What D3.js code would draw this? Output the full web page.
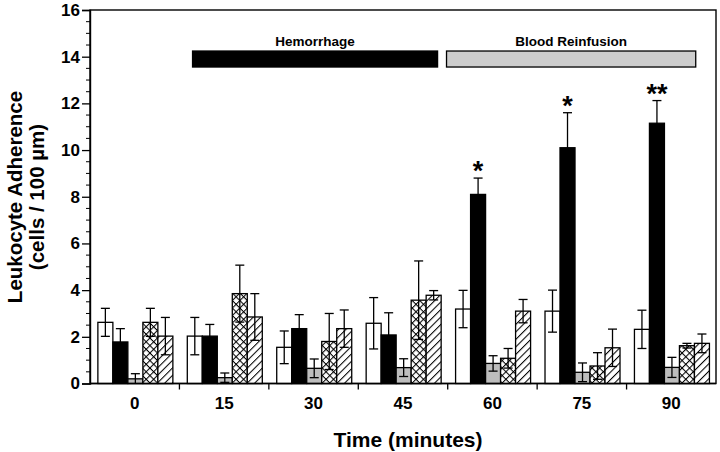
<!DOCTYPE html>
<html><head><meta charset="utf-8">
<script src="https://cdn.jsdelivr.net/npm/d3@7"></script>
<style>
html,body{margin:0;padding:0;background:#fff;}
svg{display:block;font-family:"Liberation Sans",Arial,Helvetica,sans-serif;}
</style></head>
<body>
<svg id="chart" width="720" height="452"></svg>
<script>
// ---- data ----
const times = ["0", "15", "30", "45", "60", "75", "90"];
const seriesNames = ["open", "black", "gray", "cross", "hatch"];
const valOpen  = [2.62, 2.03, 1.55, 2.58, 3.19, 3.10, 2.32];
const errOpen  = [0.60, 0.80, 0.70, 1.10, 0.80, 0.90, 0.82];
const valBlack = [1.78, 2.03, 2.35, 2.08, 8.10, 10.10, 11.15];
const errBlack = [0.57, 0.50, 0.60, 0.95, 0.70, 1.50, 0.97];
const valGray  = [0.20, 0.25, 0.65, 0.68, 0.86, 0.48, 0.69];
const errGray  = [0.22, 0.20, 0.40, 0.38, 0.33, 0.40, 0.43];
const valCross = [2.62, 3.85, 1.80, 3.57, 1.08, 0.75, 1.62];
const errCross = [0.60, 1.22, 1.20, 1.68, 0.42, 0.57, 0.10];
const valHatch = [2.03, 2.85, 2.35, 3.78, 3.10, 1.53, 1.72];
const errHatch = [0.80, 1.00, 0.80, 0.20, 0.50, 0.80, 0.40];
const starsBlack = ["", "", "", "", "*", "*", "**"];
const yTicks = [0, 2, 4, 6, 8, 10, 12, 14, 16];
const phaseNames = ["Hemorrhage", "Blood Reinfusion"];
const phaseStart = [9.7, 52.3];   // minutes
const phaseEnd   = [50.8, 94.1];  // minutes
const phaseLevel = 13.9;          // y value (centre of bars)

// ---- layout ----
const svg = d3.select("#chart");
const L = 90, R = 716, T = 10, B = 383.5;
const FONT = "'Liberation Sans',Arial,Helvetica,sans-serif";

const x0 = d3.scaleBand().domain(times).range([L, R]).padding(0);
const bw = x0.bandwidth();
const x1 = d3.scaleBand().domain(seriesNames).range([bw * 0.088, bw * 0.088 + 75]).padding(0);
const y = d3.scaleLinear().domain([0, 16]).range([B, T]);
const tScale = d3.scaleLinear().domain([0, 90]).range([x0("0") + bw / 2, x0("90") + bw / 2]);

// patterns
const defs = svg.append("defs");
const ph = defs.append("pattern").attr("id", "hatch").attr("patternUnits", "userSpaceOnUse")
  .attr("width", 5.3).attr("height", 10).attr("patternTransform", "rotate(45)");
ph.append("rect").attr("width", 5.3).attr("height", 10).attr("fill", "#fff");
ph.append("line").attr("x1", 0.5).attr("y1", 0).attr("x2", 0.5).attr("y2", 10).attr("stroke", "#000").attr("stroke-width", 1.1);
const pc = defs.append("pattern").attr("id", "cross").attr("patternUnits", "userSpaceOnUse")
  .attr("width", 5.3).attr("height", 5.3).attr("patternTransform", "rotate(45)");
pc.append("rect").attr("width", 5.3).attr("height", 5.3).attr("fill", "#fff");
pc.append("line").attr("x1", 0.5).attr("y1", 0).attr("x2", 0.5).attr("y2", 5.3).attr("stroke", "#000").attr("stroke-width", 1.1);
pc.append("line").attr("x1", 0).attr("y1", 0.5).attr("x2", 5.3).attr("y2", 0.5).attr("stroke", "#000").attr("stroke-width", 1.1);

const fills = { open: "#ffffff", black: "#000000", gray: "#bdbdbd", cross: "url(#cross)", hatch: "url(#hatch)" };
const vals = { open: valOpen, black: valBlack, gray: valGray, cross: valCross, hatch: valHatch };
const errs = { open: errOpen, black: errBlack, gray: errGray, cross: errCross, hatch: errHatch };

const rows = [];
times.forEach((t, i) => seriesNames.forEach(s => rows.push({ t, s, v: vals[s][i], e: errs[s][i], i })));

// frame
svg.append("rect").attr("x", L).attr("y", T).attr("width", R - L).attr("height", B - T)
  .attr("fill", "none").attr("stroke", "#000").attr("stroke-width", 1.4);

// bars
const g = svg.append("g");
g.selectAll("rect.bar").data(rows).join("rect").attr("class", "bar")
  .attr("x", d => x0(d.t) + x1(d.s))
  .attr("width", x1.bandwidth())
  .attr("y", d => y(d.v))
  .attr("height", d => y(0) - y(d.v))
  .attr("fill", d => fills[d.s])
  .attr("stroke", "#000").attr("stroke-width", 1.3);

// error bars
const cap = 4.5;
const eg = svg.append("g").attr("stroke", "#000").attr("stroke-width", 1.3);
rows.forEach(d => {
  const cx = x0(d.t) + x1(d.s) + x1.bandwidth() / 2;
  const lo = Math.max(0, d.v - d.e), hi = d.v + d.e;
  eg.append("line").attr("x1", cx).attr("x2", cx).attr("y1", y(lo)).attr("y2", y(hi));
  eg.append("line").attr("x1", cx - cap).attr("x2", cx + cap).attr("y1", y(hi)).attr("y2", y(hi));
  if (d.v - d.e > 0.02)
    eg.append("line").attr("x1", cx - cap).attr("x2", cx + cap).attr("y1", y(lo)).attr("y2", y(lo));
});

// significance stars
times.forEach((t, i) => {
  if (!starsBlack[i]) return;
  const cx = x0(t) + x1("black") + x1.bandwidth() / 2;
  svg.append("text").attr("x", cx).attr("y", y(valBlack[i] + errBlack[i]) + 2)
    .attr("text-anchor", "middle").attr("font-family", FONT).attr("font-weight", "bold")
    .attr("font-size", 27).text(starsBlack[i]);
});

// y axis
const yAxis = d3.axisLeft(y).tickValues(yTicks).tickSize(8).tickPadding(2).tickFormat(d3.format("d"));
const ya = svg.append("g").attr("transform", `translate(${L},0)`).call(yAxis);
ya.select(".domain").attr("stroke-width", 1.4);
ya.selectAll(".tick line").attr("stroke-width", 1.3);
ya.selectAll("text").attr("font-family", FONT).attr("font-weight", "bold").attr("font-size", 17).attr("fill", "#000");
const minor = d3.range(0.5, 16, 0.5).filter(v => v % 2 !== 0);
svg.append("g").selectAll("line").data(minor).join("line")
  .attr("x1", L - 4).attr("x2", L).attr("y1", d => y(d)).attr("y2", d => y(d))
  .attr("stroke", "#000").attr("stroke-width", 1);

// x axis
const xa = svg.append("g").attr("transform", `translate(0,${B})`);
xa.append("line").attr("x1", L).attr("x2", R).attr("y1", 0).attr("y2", 0).attr("stroke", "#000").attr("stroke-width", 1.4);
xa.selectAll("line.tk").data(times.slice(1)).join("line").attr("class", "tk")
  .attr("x1", d => x0(d)).attr("x2", d => x0(d)).attr("y1", 0).attr("y2", 6)
  .attr("stroke", "#000").attr("stroke-width", 1.3);
xa.selectAll("text").data(times).join("text")
  .attr("x", d => x0(d) + bw / 2).attr("y", 25)
  .attr("text-anchor", "middle").attr("font-family", FONT).attr("font-weight", "bold")
  .attr("font-size", 17).text(d => d);

// phase banners
phaseNames.forEach((n, i) => {
  const xa0 = tScale(phaseStart[i]), xb = tScale(phaseEnd[i]);
  svg.append("rect").attr("x", xa0).attr("y", y(phaseLevel) - 8).attr("width", xb - xa0).attr("height", 16)
    .attr("fill", i === 0 ? "#000" : "#cdcdcd").attr("stroke", "#000").attr("stroke-width", 1.3);
  svg.append("text").attr("x", (xa0 + xb) / 2).attr("y", y(phaseLevel) - 13.5)
    .attr("text-anchor", "middle").attr("font-family", FONT).attr("font-weight", "bold")
    .attr("font-size", 13.5).text(n);
});

// axis titles
svg.append("text").attr("x", 408).attr("y", 446.5).attr("text-anchor", "middle")
  .attr("font-family", FONT).attr("font-weight", "bold").attr("font-size", 21).text("Time (minutes)");
const yt = svg.append("text").attr("transform", "translate(0,197) rotate(-90)")
  .attr("text-anchor", "middle").attr("font-family", FONT).attr("font-weight", "bold").attr("font-size", 20.5);
yt.append("tspan").attr("x", 0).attr("y", 21.5).text("Leukocyte Adherence");
yt.append("tspan").attr("x", 0).attr("y", 44).text("(cells / 100 µm)");
</script>
</body></html>
